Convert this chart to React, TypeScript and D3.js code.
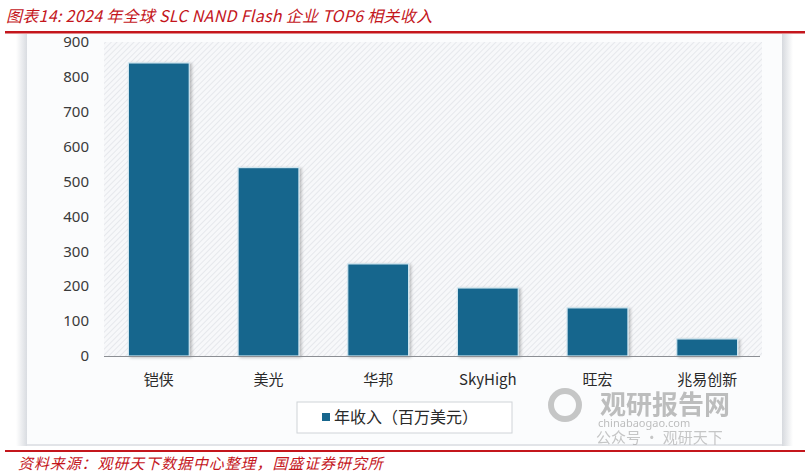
import React, { useEffect, useRef } from "react";
import * as d3 from "d3";

const categories = ["铠侠", "美光", "华邦", "SkyHigh", "旺宏", "兆易创新"];
const revenue = [840, 540, 264, 195, 138, 49];
const yTicks = [0, 100, 200, 300, 400, 500, 600, 700, 800, 900];
const titleText = "图表14:  2024 年全球 SLC NAND Flash 企业 TOP6 相关收入";
const sourceText = "资料来源：观研天下数据中心整理，国盛证券研究所";
const legendLabel = "年收入（百万美元）";

const W = 810;
const H = 476;
const RED = "#c4161c";
const BAR = "#17668d";

export default function App() {
  const ref = useRef<SVGSVGElement | null>(null);

  useEffect(() => {
    const svg = d3.select(ref.current);
    svg.selectAll("*").remove();

    const defs = svg.append("defs");
    const pat = defs
      .append("pattern")
      .attr("id", "hatch")
      .attr("patternUnits", "userSpaceOnUse")
      .attr("width", 4)
      .attr("height", 4)
      .attr("patternTransform", "rotate(45)");
    pat.append("rect").attr("width", 4).attr("height", 4).attr("fill", "#f7f8fa");
    pat.append("line").attr("x1", 0).attr("y1", 0).attr("x2", 0).attr("y2", 4)
      .attr("stroke", "#dfe2e6").attr("stroke-width", 1.4);

    const shL = defs.append("linearGradient").attr("id", "shadowL").attr("x1", "0").attr("x2", "1");
    shL.append("stop").attr("offset", "0").attr("stop-color", "#ffffff");
    shL.append("stop").attr("offset", "1").attr("stop-color", "#d9dce1");
    const shR = defs.append("linearGradient").attr("id", "shadowR").attr("x1", "0").attr("x2", "1");
    shR.append("stop").attr("offset", "0").attr("stop-color", "#d6d9de");
    shR.append("stop").attr("offset", "1").attr("stop-color", "#ffffff");

    const f = defs.append("filter").attr("id", "barShadow").attr("x", "-10%").attr("y", "-10%").attr("width", "130%").attr("height", "130%");
    f.append("feDropShadow").attr("dx", 2).attr("dy", 1).attr("stdDeviation", 1.5).attr("flood-color", "#000").attr("flood-opacity", 0.25);

    svg.append("rect").attr("width", W).attr("height", H).attr("fill", "#ffffff");

    // title
    svg.append("text")
      .attr("x", 6).attr("y", 22)
      .attr("fill", RED)
      .attr("font-size", 16)
      .attr("letter-spacing", 0.3)
      .attr("font-style", "italic")
      .attr("font-family", "'Noto Sans CJK SC', 'Noto Sans', sans-serif")
      .text(titleText);
    svg.append("rect").attr("x", 5).attr("y", 31).attr("width", 800).attr("height", 2.5).attr("fill", RED);

    // panel with shadows
    svg.append("rect").attr("x", 16).attr("y", 34).attr("width", 11).attr("height", 412).attr("fill", "url(#shadowL)");
    svg.append("rect").attr("x", 782).attr("y", 34).attr("width", 11).attr("height", 412).attr("fill", "url(#shadowR)");
    svg.append("rect").attr("x", 27).attr("y", 34).attr("width", 755).attr("height", 411).attr("fill", "#fbfcfd");
    svg.append("rect").attr("x", 27).attr("y", 444).attr("width", 755).attr("height", 2).attr("fill", "#e2e4e8");

    // scales
    const x = d3.scaleBand<string>().domain(categories).range([104, 762]).paddingInner(0.445).paddingOuter(0.2225);
    const y = d3.scaleLinear().domain([0, 900]).range([356, 42]);

    // plot hatch
    svg.append("rect")
      .attr("x", 104).attr("y", y(900))
      .attr("width", 658).attr("height", y(0) - y(900))
      .attr("fill", "url(#hatch)");

    // bars
    svg.append("g").selectAll("rect").data(revenue).join("rect")
      .attr("x", (_d, i) => x(categories[i]) as number)
      .attr("y", (d) => y(d))
      .attr("width", x.bandwidth())
      .attr("height", (d) => y(0) - y(d))
      .attr("fill", BAR)
      .attr("stroke", "#cfe6f0")
      .attr("stroke-width", 1.2)
      .attr("filter", "url(#barShadow)");

    // axis line
    svg.append("line").attr("x1", 104).attr("x2", 760).attr("y1", y(0) + 0.5).attr("y2", y(0) + 0.5)
      .attr("stroke", "#8c8f94").attr("stroke-width", 1.2);

    // y tick labels
    svg.append("g").selectAll("text").data(yTicks).join("text")
      .attr("x", 89).attr("y", (d) => y(d))
      .attr("dy", "0.35em")
      .attr("text-anchor", "end")
      .attr("fill", "#3a3a3a")
      .attr("font-size", 15)
      .attr("font-family", "'Noto Sans', 'DejaVu Sans', sans-serif")
      .text((d) => String(d));

    // x labels
    svg.append("g").selectAll("text").data(categories).join("text")
      .attr("x", (d) => (x(d) as number) + x.bandwidth() / 2)
      .attr("y", 385)
      .attr("text-anchor", "middle")
      .attr("fill", "#2a2a2a")
      .attr("font-size", 15)
      .attr("font-family", "'Noto Sans CJK SC', 'Noto Sans', sans-serif")
      .text((d) => d);

    // watermark
    const wm = svg.append("g").attr("opacity", 0.55);
    wm.append("circle").attr("cx", 565).attr("cy", 405).attr("r", 14).attr("fill", "none").attr("stroke", "#9a9a9a").attr("stroke-width", 6);
    wm.append("text").attr("x", 600).attr("y", 414).attr("font-size", 26).attr("font-weight", "bold")
      .attr("fill", "#8a8a8a").attr("font-family", "'Noto Sans CJK SC', sans-serif").text("观研报告网");
    wm.append("text").attr("x", 598).attr("y", 427).attr("font-size", 11)
      .attr("fill", "#8a8a8a").attr("font-family", "'Noto Sans', sans-serif").text("chinabaogao.com");
    wm.append("text").attr("x", 596).attr("y", 443).attr("font-size", 15)
      .attr("fill", "#9a9a9a").attr("font-family", "'Noto Sans CJK SC', sans-serif").text("公众号 · 观研天下");

    // legend
    svg.append("rect").attr("x", 297).attr("y", 402).attr("width", 215).attr("height", 31)
      .attr("fill", "#ffffff").attr("stroke", "#d0d3d8").attr("stroke-width", 1);
    svg.append("rect").attr("x", 322).attr("y", 413).attr("width", 8).attr("height", 8).attr("fill", BAR);
    svg.append("text").attr("x", 334).attr("y", 423).attr("font-size", 16)
      .attr("fill", "#2a2a2a").attr("font-family", "'Noto Sans CJK SC', sans-serif").text(legendLabel);

    // source
    svg.append("rect").attr("x", 5).attr("y", 450).attr("width", 800).attr("height", 2).attr("fill", RED);
    svg.append("text")
      .attr("x", 18).attr("y", 469)
      .attr("fill", RED)
      .attr("font-size", 15)
      .attr("letter-spacing", 0.9)
      .attr("font-style", "italic")
      .attr("font-family", "'Noto Sans CJK SC', sans-serif")
      .text(sourceText);
  }, []);

  return (
    <svg
      ref={ref}
      width={W}
      height={H}
      style={{ position: "absolute", left: 0, top: 0, display: "block" }}
    />
  );
}
